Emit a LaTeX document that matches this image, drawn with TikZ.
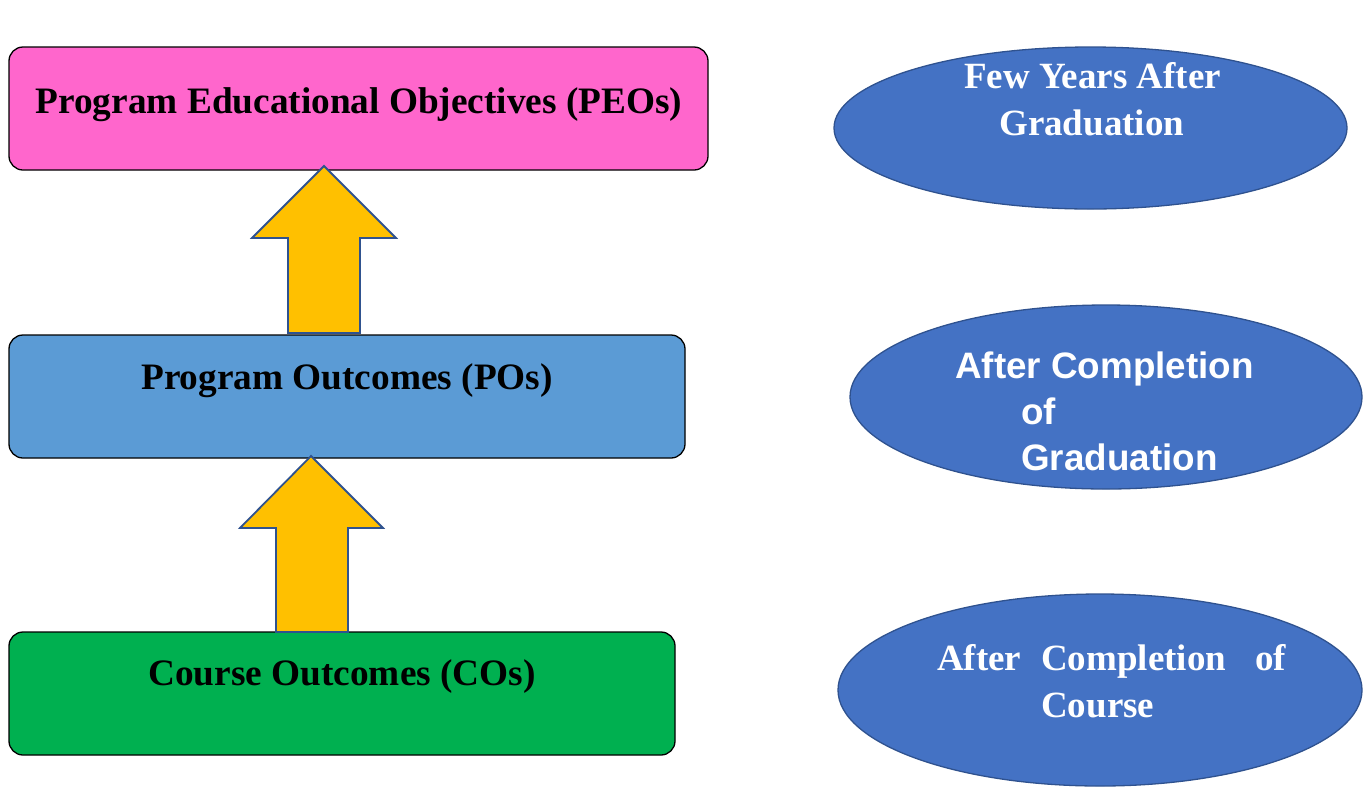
\documentclass[tikz,border=0pt]{standalone}
\usepackage{fontspec}
\setmainfont{Liberation Serif}
\newfontfamily\arialfont{Liberation Sans}
\usetikzlibrary{shapes.geometric}
\definecolor{peopink}{HTML}{FF66CC}
\definecolor{poblue}{HTML}{5B9BD5}
\definecolor{cogreen}{HTML}{00B050}
\definecolor{ovalblue}{HTML}{4472C4}
\definecolor{ovalline}{HTML}{2F528F}
\definecolor{arrowgold}{HTML}{FFC000}
\tikzset{
  levelbox/.style={draw=black, line width=1.3pt, rounded corners=14pt, inner sep=0pt},
  boxtext/.style={font=\bfseries\fontsize{37.3}{40}\selectfont, text=black, inner sep=0pt, anchor=base},
  oval/.style={ellipse, draw=ovalline, line width=1.3pt, fill=ovalblue, inner sep=0pt},
  ovaltext/.style={font=\bfseries\fontsize{37}{40}\selectfont, text=white, inner sep=0pt, anchor=base west},
  ovalsans/.style={font=\arialfont\bfseries\fontsize{36.8}{40}\selectfont, text=white, inner sep=0pt, anchor=base west},
  uparrow/.style={draw=ovalline, line width=1.8pt, fill=arrowgold, line join=miter}
}
\begin{document}
\begin{tikzpicture}[x=1pt, y=-1pt]
\useasboundingbox (0,0) rectangle (1372,796);

% level boxes
\node[levelbox, fill=peopink, minimum width=699pt, minimum height=123pt] (peo) at (358.5,108.5) {};
\node[levelbox, fill=poblue, minimum width=676pt, minimum height=123pt] (po) at (347,396.5) {};
\node[levelbox, fill=cogreen, minimum width=666pt, minimum height=123pt] (co) at (342,693.5) {};

\node[boxtext] (peotext) at (359,113) {Program Educational Objectives (PEOs)};
\node[boxtext] (potext) at (347,389) {Program Outcomes (POs)};
\node[boxtext] (cotext) at (342,685) {Course Outcomes (COs)};

% block arrows between levels
\draw[uparrow] (324,166) -- (396,238) -- (360,238) -- (360,333) -- (288,333) -- (288,238) -- (252,238) -- cycle;
\draw[uparrow] (311,456) -- (383,528) -- (348,528) -- (348,632) -- (276,632) -- (276,528) -- (240,528) -- cycle;

% time-frame ovals
\node[oval, minimum width=513pt, minimum height=162pt] (ov1) at (1090.5,128) {};
\node[oval, minimum width=512pt, minimum height=184pt] (ov2) at (1106,397) {};
\node[oval, minimum width=524pt, minimum height=192pt] (ov3) at (1100,690) {};

\node[ovaltext] (ov1a) at (964,88) {Few Years After};
\node[ovaltext] (ov1b) at (999,135) {Graduation};

\node[ovalsans] (ov2a) at (955,378) {After Completion};
\node[ovalsans] (ov2b) at (1021,424) {of};
\node[ovalsans] (ov2c) at (1021,470) {Graduation};

\node[ovaltext] (ov3a) at (937,670) {After};
\node[ovaltext] (ov3b) at (1041,670) {Completion};
\node[ovaltext] (ov3c) at (1255,670) {of};
\node[ovaltext] (ov3d) at (1041,717) {Course};
\end{tikzpicture}
\end{document}
